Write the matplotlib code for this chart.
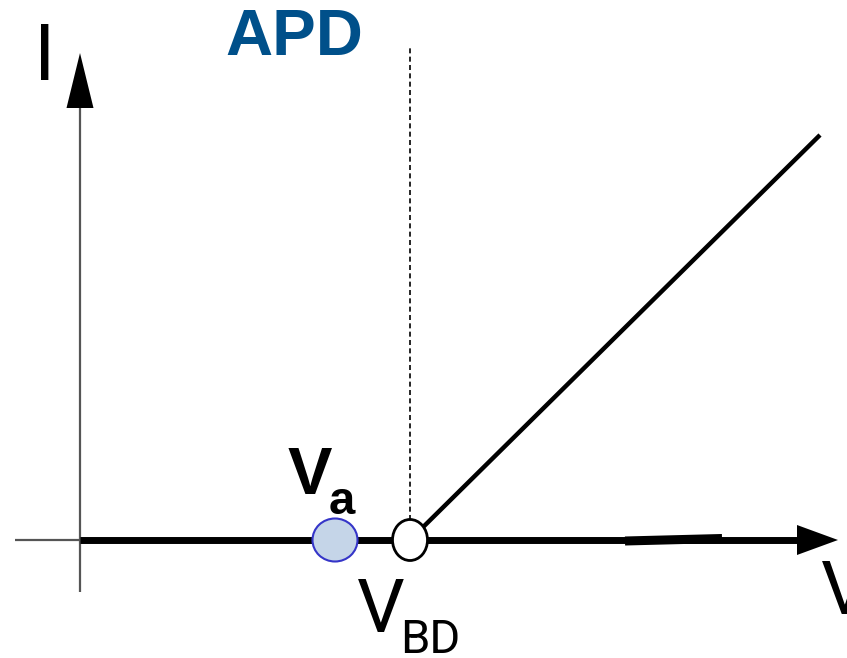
"""
Curva I-V esquemática de un APD (fotodiodo de avalancha).
"""

import matplotlib
matplotlib.use('Agg')
import matplotlib.pyplot as plt
from matplotlib.patches import Ellipse

# Datos de la curva (unidades arbitrarias, origen en el cruce de ejes)
v_curve = [0, 330, 740]       # tensión: 0, V_BD, extremo
i_curve = [0, 0, 405]         # corriente: nula hasta V_BD, luego lineal
v_bd = 330
v_a = 255
title = 'APD'
label_i = 'I'
label_v = 'V'

fig = plt.figure(figsize=(8.47, 6.58), dpi=100)
ax = fig.add_axes([0, 0, 1, 1])
ax.set_xlim(-80, 767)
ax.set_ylim(-118, 540)
ax.axis('off')

thin = ['Roboto', 'DejaVu Sans']

# Ejes finos (grises)
ax.plot([-65, 0], [0, 0], color='#555555', lw=1.6, solid_capstyle='butt')
ax.plot([0, 0], [-52, 432], color='#555555', lw=1.6, solid_capstyle='butt')
ax.fill([-13.5, 13.5, 0], [432, 432, 487], color='black', lw=0)

# Eje V grueso con flecha
ax.plot([0, 720], [0, 0], color='black', lw=5, solid_capstyle='butt', zorder=2)
ax.fill([717, 717, 758], [15, -15, 0], color='black', lw=0, zorder=2)
ax.plot([545, 642], [-1, 1.5], color='black', lw=6.5, solid_capstyle='butt', zorder=2)

# Línea discontinua en V_BD
ax.plot([v_bd, v_bd], [20, 492], color='black', lw=1.2,
        linestyle=(0, (3, 2)), zorder=1)

# Curva I-V
ax.plot(v_curve[1:], i_curve[1:], color='black', lw=3.2, solid_capstyle='butt', zorder=2)

# Puntos V_a y V_BD
ax.add_patch(Ellipse((v_a, 0), 45, 43, facecolor='#c5d5e8',
                     edgecolor='#3535c8', lw=1.5, zorder=3))
ax.add_patch(Ellipse((v_bd, 0), 35, 41, facecolor='white',
                     edgecolor='black', lw=2, zorder=3))

# Textos
ax.text(214, 502, title, color='#00508a', fontsize=47, fontweight='bold',
        family='Liberation Sans', ha='center', va='center')
ax.text(-35, 482, label_i, fontsize=56, family=thin,
        ha='center', va='center')
ax.text(230, 63, 'V', fontsize=48, fontweight='bold', family='Liberation Sans',
        ha='center', va='center')
ax.text(262, 38, 'a', fontsize=34, fontweight='bold', family='Liberation Sans',
        ha='center', va='center')
ax.text(301, -72, 'V', fontsize=54, family=thin,
        ha='center', va='center')
ax.text(350, -100, 'BD', fontsize=34, family=thin,
        ha='center', va='center')
ax.text(765, -53, label_v, fontsize=54, family=thin,
        ha='center', va='center')

fig.savefig('out.png', dpi=100)
